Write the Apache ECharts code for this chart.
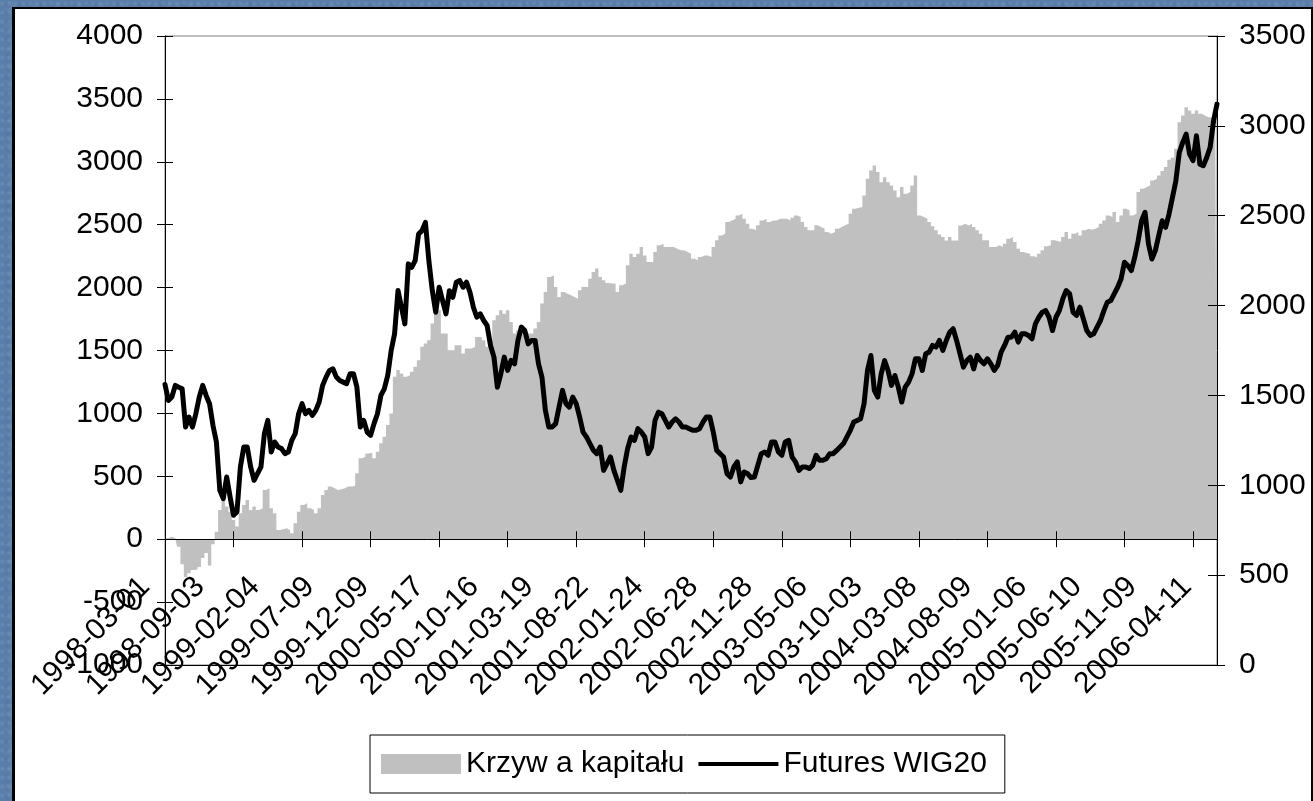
<!DOCTYPE html>
<html>
<head>
<meta charset="utf-8">
<title>Krzywa kapitału vs Futures WIG20</title>
<script src="https://cdn.jsdelivr.net/npm/echarts@6/dist/echarts.min.js"></script>
<style>
    html, body {
        margin: 0;
        width: 1313px;
        height: 801px;
        overflow: hidden;
    }
    body {
        background-color: #5a7eaa;
        background-image:
            radial-gradient(circle at 30% 40%, rgba(255,255,255,0.10) 0, rgba(255,255,255,0) 3px),
            radial-gradient(circle at 70% 70%, rgba(20,40,80,0.10) 0, rgba(20,40,80,0) 4px),
            radial-gradient(circle at 50% 50%, rgba(255,255,255,0.06) 0, rgba(255,255,255,0) 9px);
        background-size: 7px 9px, 11px 8px, 23px 19px;
    }
    #chart {
        position: absolute;
        left: 12px;
        top: 7px;
        width: 1296px;
        height: 800px;
        background: #fff;
        border-left: 3px solid #000;
        border-top: 2px solid #000;
        border-right: 2px solid #000;
    }
</style>
</head>
<body>
<div id="chart"></div>
<script>
// etykiety osi X (co 16. punkt danych)
const dateLabels = [
    '1998-03-01', '1998-09-03', '1999-02-04', '1999-07-09', '1999-12-09',
    '2000-05-17', '2000-10-16', '2001-03-19', '2001-08-22', '2002-01-24',
    '2002-06-28', '2002-11-28', '2003-05-06', '2003-10-03', '2004-03-08',
    '2004-08-09', '2005-01-06', '2005-06-10', '2005-11-09', '2006-04-11'
];
const LABEL_STEP = 16;
const TICK_STEP = 20;

// krzywa kapitału (lewa oś)
const equityCurve = [
    10, 10, 20, 10, -60, -200, -300, -270, -245, -240,
    -220, -150, -110, -210, -40, 60, 232, 325, 259, 219,
    153, 100, 206, 272, 312, 232, 259, 232, 246, 391,
    405, 246, 206, 74, 79, 87, 74, 48, 127, 219,
    272, 286, 246, 232, 206, 246, 352, 391, 418, 405,
    391, 397, 405, 418, 418, 423, 524, 643, 656, 682,
    688, 643, 696, 762, 815, 907, 1000, 1291, 1344, 1317,
    1291, 1304, 1331, 1370, 1423, 1529, 1555, 1582, 1714, 1793,
    1820, 1635, 1635, 1502, 1502, 1542, 1542, 1476, 1516, 1516,
    1529, 1608, 1608, 1582, 1529, 1582, 1740, 1780, 1820, 1793,
    1820, 1727, 1635, 1661, 1648, 1640, 1635, 1635, 1674, 1727,
    1873, 1965, 2084, 2098, 2005, 1926, 1965, 1952, 1939, 1926,
    1912, 1979, 2005, 2005, 2071, 2124, 2151, 2084, 2058, 2037,
    2032, 2032, 1965, 2018, 2032, 2177, 2270, 2243, 2270, 2323,
    2256, 2204, 2204, 2283, 2336, 2349, 2323, 2323, 2323, 2309,
    2296, 2296, 2283, 2270, 2230, 2217, 2243, 2256, 2256, 2243,
    2323, 2376, 2415, 2428, 2521, 2534, 2547, 2574, 2587, 2547,
    2508, 2468, 2455, 2495, 2534, 2547, 2521, 2534, 2534, 2547,
    2547, 2547, 2534, 2555, 2574, 2561, 2521, 2481, 2455, 2455,
    2495, 2481, 2468, 2442, 2428, 2442, 2468, 2481, 2495, 2508,
    2587, 2627, 2635, 2640, 2733, 2865, 2931, 2971, 2918, 2838,
    2878, 2838, 2812, 2772, 2719, 2799, 2746, 2759, 2812, 2891,
    2574, 2561, 2547, 2521, 2487, 2455, 2423, 2402, 2375, 2402,
    2375, 2375, 2494, 2508, 2494,
    2508, 2481, 2455, 2428, 2376, 2376, 2323, 2323, 2336, 2323,
    2349, 2389, 2402, 2362, 2309, 2283, 2275, 2270, 2249, 2243,
    2270, 2296, 2328, 2336, 2376, 2370, 2362, 2402, 2442, 2389,
    2428, 2442, 2415, 2455, 2468, 2460, 2468, 2481, 2508, 2534,
    2574, 2561, 2600, 2521, 2574, 2627, 2614, 2574, 2587, 2759,
    2786, 2799, 2812, 2852, 2865, 2891, 2926, 2958, 3016, 3032,
    3103, 3315, 3368, 3434, 3407, 3381, 3407, 3381, 3368, 3354,
    3354, 3328, 3341
];

// Futures WIG20 (prawa oś)
const wig20 = [
    1561, 1472, 1491, 1556, 1546, 1537, 1324, 1380, 1324, 1398,
    1491, 1556, 1500, 1454, 1333, 1241, 972, 926, 1046, 935,
    833, 852, 1102, 1213, 1213, 1102, 1028, 1065, 1102, 1287,
    1361, 1185, 1241, 1213, 1204, 1176, 1185, 1250, 1287, 1398,
    1454, 1398, 1417, 1389, 1417, 1463, 1556, 1602, 1639, 1648,
    1602, 1583, 1574, 1565, 1621, 1621, 1546, 1324, 1361, 1296,
    1278, 1343, 1398, 1500, 1537, 1611, 1750, 1843, 2084, 1991,
    1898, 2232, 2213, 2250, 2398, 2417, 2463, 2250, 2084, 1963,
    2102, 2028, 1954, 2083, 2046, 2130, 2139, 2102, 2130, 2074,
    1991, 1935, 1954, 1917, 1889, 1778, 1713, 1546, 1620, 1713,
    1639, 1695, 1676, 1806, 1880, 1861, 1787, 1806, 1806, 1676,
    1602, 1417, 1324, 1324, 1343, 1435, 1528, 1454, 1435, 1491,
    1454, 1380, 1296, 1269, 1232, 1195, 1176, 1213, 1083, 1120,
    1158, 1083, 1028, 972, 1102, 1204, 1269, 1250, 1315, 1296,
    1269, 1176, 1213, 1361, 1407, 1398, 1361, 1324, 1352, 1370,
    1352, 1324, 1324, 1315, 1306, 1306, 1315, 1352, 1380, 1380,
    1296, 1194, 1176, 1157, 1065, 1046, 1102, 1130, 1019, 1074,
    1065, 1043, 1046, 1111, 1176, 1185, 1167, 1241, 1241, 1185,
    1167, 1241, 1250, 1157, 1130, 1083, 1102, 1102, 1093, 1111,
    1167, 1139, 1139, 1148, 1176, 1176, 1194, 1213, 1232, 1269,
    1306, 1352, 1361, 1370, 1454, 1639, 1722, 1528, 1491, 1620,
    1694, 1639, 1556, 1611, 1546, 1463, 1546, 1574, 1620, 1704,
    1704, 1639, 1732, 1741, 1778, 1769, 1806, 1750, 1806, 1852,
    1871, 1806, 1732, 1657, 1694,
    1713, 1648, 1722, 1695, 1676, 1704, 1676, 1639, 1667, 1741,
    1778, 1824, 1824, 1852, 1797, 1843, 1843, 1834, 1815, 1898,
    1935, 1963, 1972, 1935, 1861, 1935, 1972, 2037, 2084, 2065,
    1963, 1945, 1991, 1926, 1861, 1834, 1843, 1880, 1917, 1972,
    2019, 2028, 2065, 2102, 2148, 2241, 2222, 2195, 2269, 2361,
    2472, 2519, 2343, 2259, 2306, 2389, 2472, 2435, 2509, 2602,
    2695, 2852, 2908, 2954, 2843, 2806, 2945, 2787, 2778, 2824,
    2880, 3028, 3121
];

const FONT = "'Liberation Sans', Arial, sans-serif";
const FS = 30;

// kategorie = numery punktów, podpisy z dateLabels
const categories = equityCurve.map((_, i) => String(i));

function dateFormatter(value) {
    const i = Number(value);
    if (i % LABEL_STEP !== 0) return '';
    return dateLabels[i / LABEL_STEP] || '';
}

const plainNumber = v => String(v);

const chart = echarts.init(document.getElementById('chart'));

const leftScale = { min: -1000, max: 4000, interval: 500 };
const rightScale = { min: 0, max: 3500, interval: 500 };

// oś X leży na poziomie 0 lewej osi: przesunięcie od dolnej krawędzi siatki
const GRID_H = 629;
const ZERO_OFFSET = -GRID_H * (0 - leftScale.min) / (leftScale.max - leftScale.min);

const option = {
    animation: false,
    backgroundColor: '#fff',
    textStyle: { fontFamily: FONT },
    grid: {
        left: 150,
        top: 27,
        width: 1052,
        height: GRID_H,
        show: true,
        borderColor: '#808080',
        borderWidth: 1,
        backgroundColor: 'transparent'
    },
    legend: {
        left: 355,
        top: 726,
        orient: 'horizontal',
        padding: [14, 18, 14, 11],
        itemGap: 14,
        itemWidth: 80,
        itemHeight: 20,
        borderColor: '#000',
        borderWidth: 1,
        borderRadius: 0,
        textStyle: { fontSize: FS, fontFamily: FONT, color: '#000' },
        data: [
            { name: 'Krzyw a kapitału', icon: 'rect' },
            { name: 'Futures WIG20', icon: 'path://M0,0H20V1H0Z' }
        ]
    },
    xAxis: [
        {
            // główna oś kategorii na wysokości zera, z podpisami
            type: 'category',
            data: categories,
            boundaryGap: false,
            position: 'bottom',
            offset: ZERO_OFFSET,
            z: 3,
            axisLine: { onZero: false, lineStyle: { color: '#000', width: 1 } },
            axisTick: { show: true, interval: TICK_STEP - 1, length: 8, lineStyle: { color: '#000' } },
            axisLabel: {
                interval: LABEL_STEP - 1,
                rotate: 45,
                margin: 23,
                padding: [0, 28, 0, 0],
                fontSize: FS,
                fontFamily: FONT,
                color: '#000',
                formatter: dateFormatter
            },
            splitLine: { show: false }
        },
        {
            // te same kreski skierowane do góry (kreski krzyżowe)
            type: 'category',
            data: categories,
            boundaryGap: false,
            position: 'bottom',
            offset: ZERO_OFFSET,
            z: 3,
            axisLine: { show: false, onZero: false },
            axisTick: { show: true, inside: true, interval: TICK_STEP - 1, length: 8, lineStyle: { color: '#000' } },
            axisLabel: { show: false },
            splitLine: { show: false }
        },
        {
            // dolna krawędź obszaru wykresu
            type: 'category',
            data: categories,
            boundaryGap: false,
            position: 'bottom',
            z: 3,
            axisLine: { onZero: false, lineStyle: { color: '#000', width: 1 } },
            axisTick: { show: false },
            axisLabel: { show: false },
            splitLine: { show: false }
        }
    ],
    yAxis: [
        {
            type: 'value',
            position: 'left',
            ...leftScale,
            z: 3,
            axisLine: { show: true, lineStyle: { color: '#000', width: 1 } },
            axisTick: { show: true, length: 8, lineStyle: { color: '#000' } },
            axisLabel: { margin: 22, fontSize: FS, fontFamily: FONT, color: '#000', formatter: plainNumber },
            splitLine: { show: false }
        },
        {
            type: 'value',
            position: 'right',
            ...rightScale,
            z: 3,
            axisLine: { show: true, lineStyle: { color: '#000', width: 1 } },
            axisTick: { show: true, length: 8, lineStyle: { color: '#000' } },
            axisLabel: { margin: 22, fontSize: FS, fontFamily: FONT, color: '#000', formatter: plainNumber },
            splitLine: { show: false }
        },
        {
            type: 'value',
            position: 'left',
            ...leftScale,
            z: 3,
            axisLine: { show: false },
            axisTick: { show: true, inside: true, length: 8, lineStyle: { color: '#000' } },
            axisLabel: { show: false },
            splitLine: { show: false }
        },
        {
            type: 'value',
            position: 'right',
            ...rightScale,
            z: 3,
            axisLine: { show: false },
            axisTick: { show: true, inside: true, length: 9, lineStyle: { color: '#000' } },
            axisLabel: { show: false },
            splitLine: { show: false }
        }
    ],
    series: [
        {
            name: 'Krzyw a kapitału',
            type: 'line',
            xAxisIndex: 0,
            yAxisIndex: 0,
            data: equityCurve,
            step: 'middle',
            symbol: 'none',
            z: 1,
            color: '#c0c0c0',
            lineStyle: { width: 0, color: '#c0c0c0' },
            areaStyle: { color: '#c0c0c0', opacity: 1 }
        },
        {
            name: 'Futures WIG20',
            type: 'line',
            xAxisIndex: 0,
            yAxisIndex: 1,
            data: wig20,
            symbol: 'none',
            z: 5,
            color: '#000',
            lineStyle: { color: '#000', width: 5, cap: 'round', join: 'round' }
        }
    ]
};

chart.setOption(option);
</script>
</body>
</html>
